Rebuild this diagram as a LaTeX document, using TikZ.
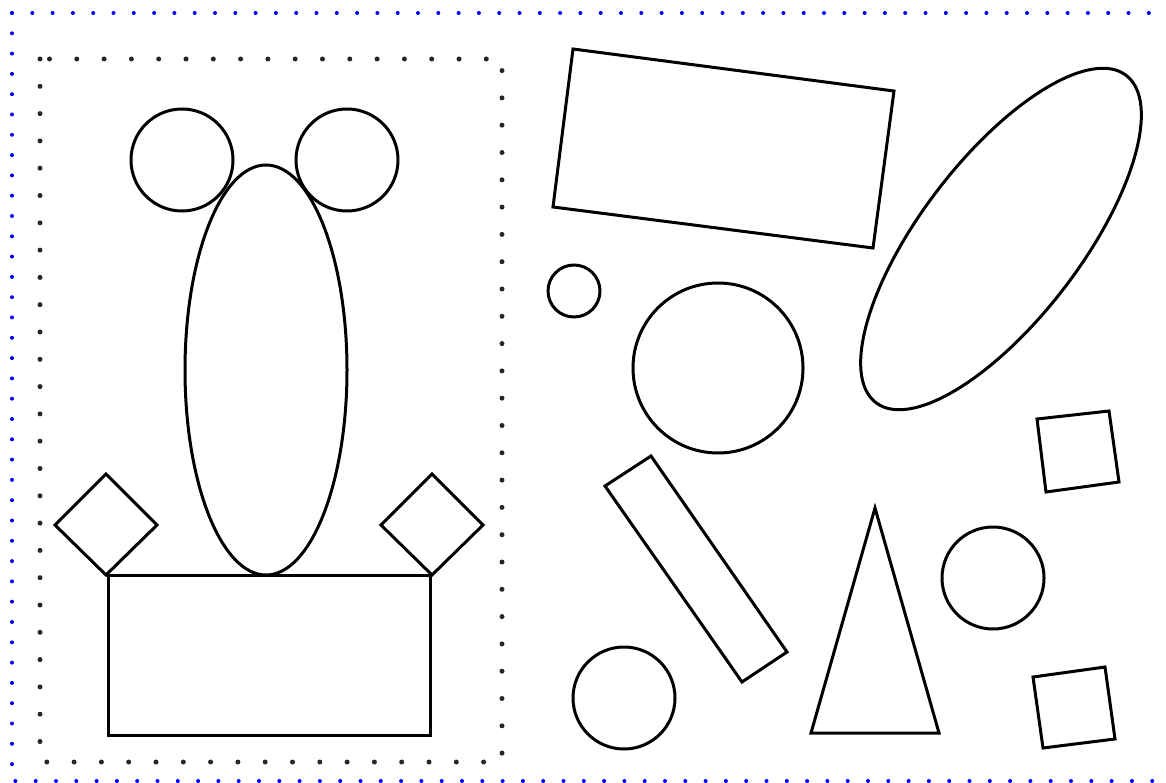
\documentclass[tikz,border=0pt]{standalone}
\begin{document}
\begin{tikzpicture}[x=1pt,y=-1pt,
  shape line/.style={line width=3pt, line join=miter},
  blue dots/.style={blue, line width=4pt, line cap=round, dash pattern=on 0pt off 20.3pt},
  black dots/.style={black!85, line width=5pt, line cap=round, dash pattern=on 0pt off 27.3pt}]
\useasboundingbox (0,0) rectangle (1166,783);
% outer blue dotted frame
\draw[blue dots] (12,13) -- (1180,13);
\draw[blue dots] (12,13) -- (12,781) -- (1180,781);
% inner black dotted frame
\draw[black dots] (40,59) rectangle (502,762);
% left figure
\draw[shape line] (182,160) circle [radius=51pt];
\draw[shape line] (347,160) circle [radius=51pt];
\draw[shape line] (266,370) ellipse [x radius=81pt, y radius=205pt];
\draw[shape line] (106,474) -- (157,525) -- (106,575) -- (55,525) -- cycle;
\draw[shape line] (432,474) -- (483,525) -- (432,575) -- (381,525) -- cycle;
\draw[shape line] (108,575) rectangle (430,735);
% right scattered shapes
\draw[shape line] (573,49) -- (894,91) -- (873,248) -- (553,207) -- cycle;
\draw[shape line] (574,291) circle [radius=26pt];
\draw[shape line] (718,368) circle [radius=85pt];
\draw[shape line, rotate around={52.6:(1001,239)}] (1001,239) ellipse [x radius=206pt, y radius=80pt];
\draw[shape line] (1037,419) -- (1109,411) -- (1119,482) -- (1046,492) -- cycle;
\draw[shape line] (605,486) -- (651,456) -- (787,652) -- (742,682) -- cycle;
\draw[shape line] (875,508) -- (939,733) -- (811,733) -- cycle;
\draw[shape line] (993,578) circle [radius=51pt];
\draw[shape line] (624,698) circle [radius=51pt];
\draw[shape line] (1033,677) -- (1105,667) -- (1115,739) -- (1043,748) -- cycle;
\end{tikzpicture}
\end{document}
